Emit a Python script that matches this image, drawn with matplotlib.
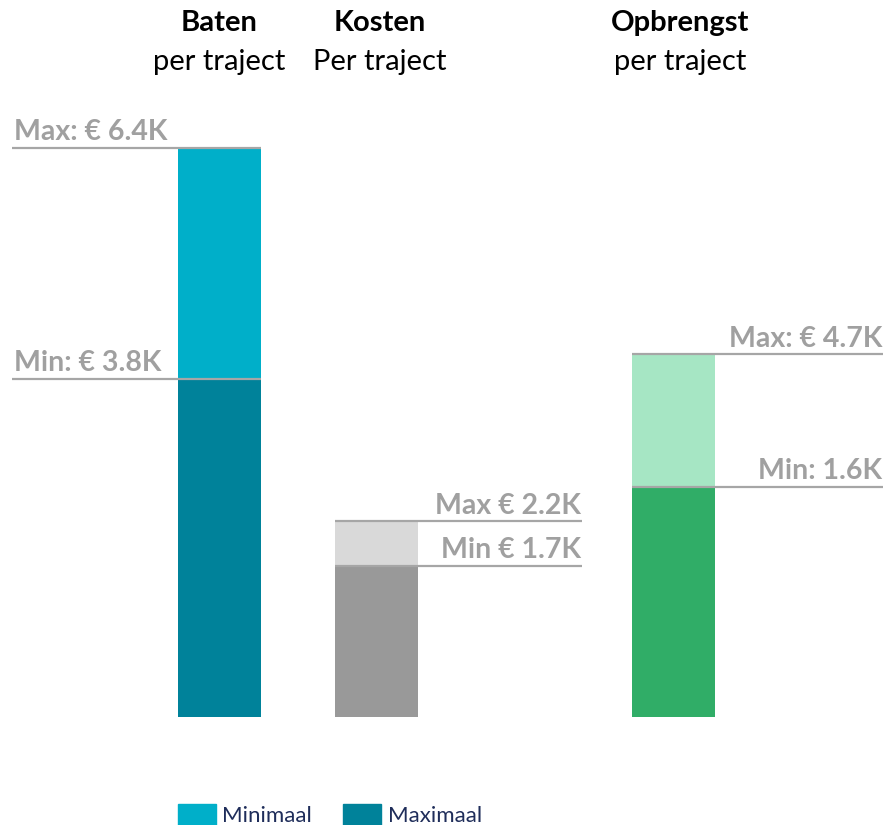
import matplotlib.pyplot as plt
from matplotlib.patches import Patch

plt.rcParams['font.family'] = ['Lato', 'DejaVu Sans']

# data (bar heights in K euro, as drawn)
categories = ["Baten", "Kosten", "Opbrengst"]
subtitles = ["per traject", "Per traject", "per traject"]
low_vals = [3.8, 1.7, 2.59]
high_vals = [6.4, 2.2, 4.08]
low_labels = ["Min: € 3.8K", "Min € 1.7K", "Min: 1.6K"]
high_labels = ["Max: € 6.4K", "Max € 2.2K", "Max: € 4.7K"]
legend_labels = ["Minimaal", "Maximaal"]

# layout (pixel x positions on a 887 px wide canvas)
bar_x = [219.5, 376.5, 673.5]
bar_w = 83
title_x = [219.5, 380, 680]
line_spans = [(12, 261), (335, 582), (632, 883)]
label_side = ["left", "right", "right"]
dark_cols = ["#00829a", "#999999", "#30ad67"]
light_cols = ["#00afc9", "#d9d9d9", "#a6e6c4"]
LINE_C = "#a6a6a6"
TEXT_C = "#a0a0a0"

px_per_k = 88.9
fig = plt.figure(figsize=(8.87, 8.25), dpi=100)
ax = fig.add_axes([0, 0, 1, 1])
ax.set_xlim(0, 887)
ax.set_ylim(-(825 - 717) / px_per_k, 717 / px_per_k)
ax.axis("off")

for i in range(len(categories)):
    ax.bar(bar_x[i], low_vals[i], width=bar_w, color=dark_cols[i], zorder=2)
    ax.bar(bar_x[i], high_vals[i] - low_vals[i], bottom=low_vals[i], width=bar_w,
           color=light_cols[i], zorder=2)
    x0, x1 = line_spans[i]
    for v, lab in [(low_vals[i], low_labels[i]), (high_vals[i], high_labels[i])]:
        ax.plot([x0, x1], [v, v], color=LINE_C, lw=1.6, zorder=3, solid_capstyle="butt")
        tx = x0 + 2 if label_side[i] == "left" else x1 - 1
        ax.annotate(lab, (tx, v), xytext=(0, 2), textcoords="offset points",
                    ha=label_side[i], va="bottom", fontsize=20.5, fontweight="bold",
                    color=TEXT_C)
    ax.text(title_x[i], 8.065 - 23 / px_per_k, categories[i], ha="center", va="center",
            fontsize=21, fontweight="bold", color="black")
    ax.text(title_x[i], 8.065 - 62 / px_per_k, subtitles[i], ha="center", va="center",
            fontsize=21, color="black")

handles = [Patch(color=light_cols[0]), Patch(color=dark_cols[0])]
ax.legend(handles, legend_labels, loc="center left", bbox_to_anchor=(178 / 887, 1 - 815 / 825),
          ncol=2, frameon=False, fontsize=16, labelcolor="#1f2d5a", handlelength=1.7,
          handleheight=1.1, columnspacing=1.4, handletextpad=0.3, borderpad=0,
          borderaxespad=0)

fig.savefig("out.png", dpi=100)
